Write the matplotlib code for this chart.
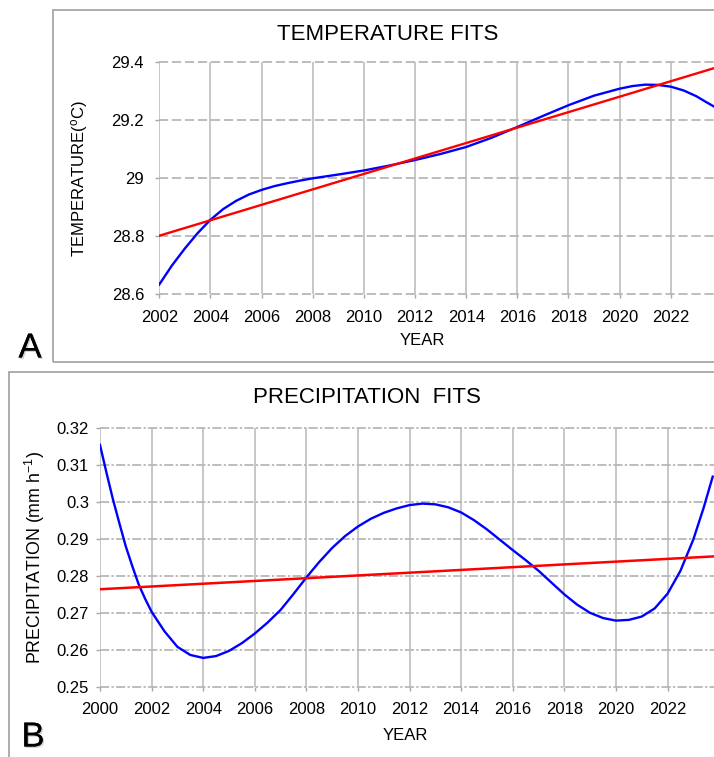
import matplotlib

matplotlib.use("Agg")
import matplotlib.patheffects as pe  # noqa: E402
import matplotlib.pyplot as plt  # noqa: E402
from matplotlib.patches import Rectangle  # noqa: E402

plt.rcParams["font.family"] = ["Liberation Sans", "DejaVu Sans"]
plt.rcParams["mathtext.fontset"] = "custom"
plt.rcParams["mathtext.rm"] = "Liberation Sans"
plt.rcParams["mathtext.it"] = "Liberation Sans:italic"

# Temperature: polynomial fit and linear trend
temp_fit_year = [2002, 2002.5, 2003, 2003.5, 2004, 2004.5, 2005, 2005.5, 2006,
                 2006.5, 2007, 2007.5, 2008, 2009, 2010, 2011, 2012, 2013, 2014,
                 2015, 2016, 2017, 2018, 2019, 2020, 2020.5, 2021, 2021.5, 2022,
                 2022.5, 2023, 2023.4, 2023.7]
temp_fit = [28.634, 28.700, 28.758, 28.811, 28.857, 28.894, 28.922, 28.944, 28.960,
            28.973, 28.983, 28.992, 29.000, 29.013, 29.027, 29.044, 29.063, 29.084,
            29.108, 29.140, 29.177, 29.215, 29.252, 29.285, 29.309, 29.318, 29.323,
            29.322, 29.316, 29.303, 29.283, 29.262, 29.247]
temp_trend_year = [2002, 2023.7]
temp_trend = [28.802, 29.380]

temp_xticks = list(range(2002, 2024, 2))
temp_yticks = [28.6, 28.8, 29.0, 29.2, 29.4]
temp_yticklabels = ["28.6", "28.8", "29", "29.2", "29.4"]

# Precipitation: polynomial fit and linear trend
precip_fit_year = [2000, 2000.25, 2000.5, 2000.75, 2001, 2001.25, 2001.5, 2001.75,
                   2002, 2002.5, 2003, 2003.5, 2004, 2004.5, 2005, 2005.5, 2006,
                   2006.5, 2007, 2007.5, 2008, 2008.5, 2009, 2009.5, 2010, 2010.5,
                   2011, 2011.5, 2012, 2012.5, 2013, 2013.5, 2014, 2014.5, 2015,
                   2015.5, 2016, 2016.5, 2017, 2017.5, 2018, 2018.5, 2019, 2019.5,
                   2020, 2020.5, 2021, 2021.5, 2022, 2022.5, 2023, 2023.4, 2023.75]
precip_fit = [0.3155, 0.3080, 0.3008, 0.2943, 0.2880, 0.2827, 0.2777, 0.2738,
              0.2703, 0.2650, 0.2608, 0.2586, 0.2578, 0.2583, 0.2597, 0.2618, 0.2644,
              0.2674, 0.2708, 0.2751, 0.2796, 0.2838, 0.2876, 0.2908, 0.2934, 0.2955,
              0.2971, 0.2983, 0.2992, 0.2996, 0.2994, 0.2986, 0.2972, 0.2951, 0.2926,
              0.2898, 0.2870, 0.2843, 0.2814, 0.2782, 0.2750, 0.2722, 0.2700, 0.2686,
              0.2679, 0.2681, 0.2690, 0.2712, 0.2752, 0.2814, 0.2899, 0.2985, 0.3069]
precip_trend_year = [2000, 2023.8]
precip_trend = [0.2764, 0.2853]

precip_xticks = list(range(2000, 2024, 2))
precip_yticks = [0.25, 0.26, 0.27, 0.28, 0.29, 0.30, 0.31, 0.32]
precip_yticklabels = ["0.25", "0.26", "0.27", "0.28", "0.29", "0.3", "0.31", "0.32"]

W, H = 714, 757
fig = plt.figure(figsize=(W / 100, H / 100), dpi=100)


def px(x0, y0, x1, y1):
    """Axes rectangle from pixel corners (top-left origin)."""
    return [x0 / W, 1 - y1 / H, (x1 - x0) / W, (y1 - y0) / H]


def style_axes(ax, xticks, yticks, yticklabels, hdash, ypad):
    for sp in ax.spines.values():
        sp.set_visible(False)
    ax.set_xticks(xticks)
    ax.set_xticklabels([str(t) for t in xticks])
    ax.set_yticks(yticks)
    ax.set_yticklabels(yticklabels)
    ax.tick_params(axis="both", labelsize=12, color="#a8a8a8", width=1.0, length=3)
    ax.tick_params(axis="x", pad=8)
    ax.tick_params(axis="y", pad=ypad)
    for t in yticks:
        ax.axhline(t, color="#ababab", lw=1.1, dashes=hdash, zorder=1, clip_on=False)
    for t in xticks:
        ax.axvline(t, color="#b8b8b8", lw=1.1, zorder=1)


# ---- A: temperature ----
axA = fig.add_axes(px(159.3, 62.3, 714, 294.3))
axA.plot(temp_fit_year, temp_fit, color="#0000ff", lw=1.7, zorder=3)
axA.plot(temp_trend_year, temp_trend, color="#ff0000", lw=1.7, zorder=4)
axA.set_xlim(2002, 2023.69)
axA.set_ylim(28.6, 29.4)
style_axes(axA, temp_xticks, temp_yticks, temp_yticklabels, (6, 2.5), 8)
axA.set_xlabel("YEAR", fontsize=12)
axA.xaxis.set_label_coords(0.475, -0.197)
axA.xaxis.label.set_va("center")
axA.set_ylabel(r"TEMPERATURE($^\mathrm{o}$C)", fontsize=12)
axA.yaxis.set_label_coords(-0.143, 0.5)
axA.yaxis.label.set_va("center")

# ---- B: precipitation ----
axB = fig.add_axes(px(100, 428.3, 714, 686.7))
axB.plot(precip_fit_year, precip_fit, color="#0000ff", lw=1.7, zorder=3)
axB.plot(precip_trend_year, precip_trend, color="#ff0000", lw=1.8, zorder=4)
axB.set_xlim(2000, 2023.8)
axB.set_ylim(0.25, 0.32)
style_axes(axB, precip_xticks, precip_yticks, precip_yticklabels, (6, 1.5, 1.5, 1.5), 5)
axB.set_xlabel("YEAR", fontsize=12)
axB.xaxis.set_label_coords(0.497, -0.187)
axB.xaxis.label.set_va("center")
axB.set_ylabel(r"PRECIPITATION (mm h$^{-1}$)", fontsize=12.8)
axB.yaxis.set_label_coords(-0.106, 0.502)
axB.yaxis.label.set_va("center")

# titles
fig.text(388 / W, 1 - 35 / H, "TEMPERATURE FITS", fontsize=16, ha="center", va="center")
fig.text(367 / W, 1 - 398 / H, "PRECIPITATION  FITS", fontsize=16, ha="center", va="center")

# panel frames
fig.patches.append(Rectangle((53 / W, 1 - 362 / H), (W + 10 - 53) / W, 352 / H,
                             transform=fig.transFigure, fill=False,
                             edgecolor="#a0a0a0", lw=1.2))
fig.patches.append(Rectangle((9 / W, -5 / H), (W + 10 - 9) / W, (757 - 372 + 5) / H,
                             transform=fig.transFigure, fill=False,
                             edgecolor="#a0a0a0", lw=1.2))

# panel letters
shadow = [pe.withSimplePatchShadow(offset=(1, -1), shadow_rgbFace="#888888", alpha=0.4),
          pe.Normal()]
fig.text(30 / W, 1 - 348 / H, "A", fontsize=25, ha="center", va="center",
         path_effects=shadow)
fig.text(33 / W, 1 - 737 / H, "B", fontsize=25, ha="center", va="center",
         path_effects=shadow)

fig.savefig("out.png", dpi=100)
